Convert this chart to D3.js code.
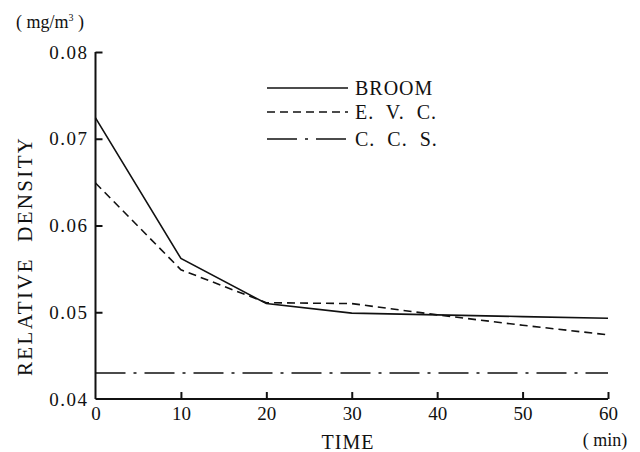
<!DOCTYPE html>
<html><head><meta charset="utf-8">
<script src="https://cdn.jsdelivr.net/npm/d3@7"></script>
<style>body{margin:0;background:#fff}svg{display:block}text{fill:#111;white-space:pre}</style>
</head><body><svg id="c" width="640" height="452"></svg>
<script>
const times = [0, 10, 20, 30, 40, 50, 60];
const broom = [0.0724, 0.0562, 0.0510, 0.0499, 0.0497, 0.0495, 0.0493];
const evc = [0.0649, 0.0549, 0.0511, 0.0510, 0.0497, 0.0485, 0.0474];
const ccs = [0.0430, 0.0430, 0.0430, 0.0430, 0.0430, 0.0430, 0.0430];
const xTicks = [0, 10, 20, 30, 40, 50, 60];
const yTicks = [0.04, 0.05, 0.06, 0.07, 0.08];
const seriesNames = ["BROOM", "E.  V.  C.", "C.  C.  S."];

const FONT = "Liberation Serif";
const svg = d3.select("#c");
const x = d3.scaleLinear().domain([0, 60]).range([95.5, 608]);
const y = d3.scaleLinear().domain([0.04, 0.08]).range([399, 52]);

const dashes = [null, "8,5", "30,8,3,8"];
const data = [broom, evc, ccs];

// axes
const xAxis = d3.axisBottom(x).tickValues(xTicks).tickSize(-7).tickPadding(10).tickFormat(d3.format("d"));
const gx = svg.append("g").attr("transform", `translate(0,${y(0.04)})`).call(xAxis);
const yAxis = d3.axisLeft(y).tickValues(yTicks).tickSize(-7).tickPadding(7).tickFormat(d3.format(".2f"));
const gy = svg.append("g").attr("transform", `translate(${x(0)},0)`).call(yAxis);
[gx, gy].forEach(g => {
  g.attr("font-family", FONT).attr("font-size", 19);
  g.select(".domain").attr("stroke", "#111").attr("stroke-width", 2);
  g.selectAll(".tick line").attr("stroke", "#111").attr("stroke-width", 2);
  g.selectAll(".tick text").attr("fill", "#111");
});
gx.select(".domain").attr("d", `M${x(0)},0H${x(60)}`);
gy.select(".domain").attr("d", `M0,${y(0.04)}V${y(0.08)}`);
gy.selectAll(".tick line").attr("x1", 0).attr("x2", 7);
gy.selectAll(".tick").filter(d => d === 0.04).select("line").remove();
gx.selectAll(".tick").filter(d => d === 0).select("line").remove();
gy.selectAll(".tick text").style("letter-spacing", "1.5px");
gx.selectAll(".tick text").attr("dy", "0.6em");

// lines
const line = d3.line().x((d, i) => x(times[i])).y(d => y(d));
data.forEach((vals, k) => {
  svg.append("path").datum(vals).attr("d", line)
    .attr("fill", "none").attr("stroke", "#111").attr("stroke-width", 1.6)
    .attr("stroke-dasharray", dashes[k]);
});

// legend
const legY = [88, 112, 139];
seriesNames.forEach((n, k) => {
  svg.append("line").attr("x1", 267).attr("x2", 348).attr("y1", legY[k]).attr("y2", legY[k])
    .attr("stroke", "#111").attr("stroke-width", 1.6).attr("stroke-dasharray", dashes[k]);
  svg.append("text").attr("font-family", FONT).attr("x", 355).attr("y", legY[k] + 7).attr("font-size", 20).style("letter-spacing", "1px").text(n);
});

// labels
svg.append("text").attr("font-family", FONT).attr("transform", "translate(32,257) rotate(-90)").attr("text-anchor", "middle")
  .attr("font-size", 21).attr("textLength", 238).text("RELATIVE  DENSITY");
svg.append("text").attr("font-family", FONT).attr("x", 348).attr("y", 449).attr("text-anchor", "middle").attr("font-size", 20).style("letter-spacing", "1px").text("TIME");
svg.append("text").attr("font-family", FONT).attr("x", 605).attr("y", 446).attr("text-anchor", "middle").attr("font-size", 18).text("( min)");
svg.append("text").attr("font-family", FONT).attr("x", 16).attr("y", 28).attr("font-size", 18).html('( mg/m<tspan dy="-7" font-size="10">3</tspan><tspan dy="7"> )</tspan>');
</script></body></html>
